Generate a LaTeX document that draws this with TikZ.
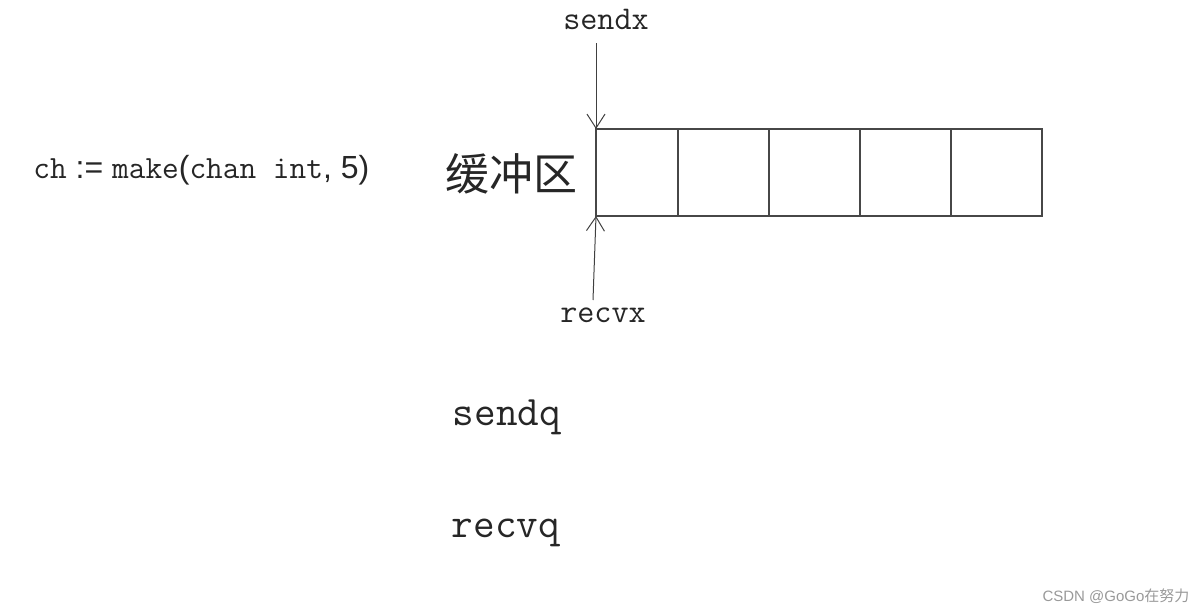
\documentclass[tikz,border=0pt]{standalone}
\usepackage{fontspec}
\setmainfont{Liberation Serif}
\setsansfont{Liberation Sans}
\newfontfamily\cjk{Noto Sans CJK SC}
\usetikzlibrary{arrows.meta,positioning}
\tikzset{>={Straight Barb[length=7pt,width=9pt]},
  cell/.style={draw=black!72, line width=0.65pt, minimum height=43.5pt, minimum width=45.5pt, inner sep=0pt, outer sep=0pt},
  lbl/.style={text=black!85, inner sep=0pt, anchor=base}}
\newcommand{\monopart}{\ttfamily\fontsize{16.2}{18}\selectfont}
\newcommand{\sanspart}{\sffamily\fontsize{16}{18}\selectfont}

\begin{document}
\begin{tikzpicture}[x=0.5pt, y=-0.5pt]
  \useasboundingbox (0,0) rectangle (1200,611);
  % channel declaration
  \node[lbl, anchor=base west] (decl) at (33,178) {\monopart ch\sanspart{} := \monopart make\sanspart(\monopart chan int\sanspart, 5)};
  \node[text=black!85, inner sep=0pt, font=\cjk\fontsize{22}{24}\selectfont] (buf) at (511,174) {缓冲区};
  % buffer slots
  \node[cell, minimum width=41pt, anchor=north west] (c1) at (596,129) {};
  \foreach \i [count=\j from 1] in {2,3,4,5} \node[cell, right=0pt of c\j] (c\i) {};
  % indices
  \node[lbl, font=\ttfamily\fontsize{16.6}{18}\selectfont] (sendx) at (606,29) {sendx};
  \node[lbl, font=\ttfamily\fontsize{16.6}{18}\selectfont] (recvx) at (603,322) {recvx};
  \coordinate (sxtail) at (596,43);
  \coordinate (rxtail) at (593,300);
  \draw[->, black!75, line width=0.5pt] (sxtail) -- (c1.north west);
  \draw[->, black!75, line width=0.5pt] (rxtail) -- (c1.south west);
  % wait queues
  \node[lbl, font=\ttfamily\fontsize{21}{24}\selectfont] (sendq) at (507,425) {sendq};
  \node[lbl, font=\ttfamily\fontsize{21}{24}\selectfont] (recvq) at (506,537) {recvq};
  \node[text=black!40, inner sep=0pt, font=\sffamily\fontsize{7.5}{9}\selectfont] (mark) at (1116,596) {CSDN @GoGo{\cjk 在努力}};
\end{tikzpicture}
\end{document}
